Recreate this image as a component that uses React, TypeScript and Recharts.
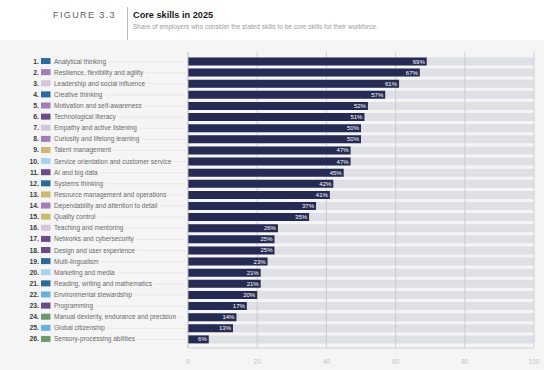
import React from 'react';
import { BarChart, Bar, XAxis, YAxis, CartesianGrid, LabelList } from 'recharts';

const skills = [
  'Analytical thinking',
  'Resilience, flexibility and agility',
  'Leadership and social influence',
  'Creative thinking',
  'Motivation and self-awareness',
  'Technological literacy',
  'Empathy and active listening',
  'Curiosity and lifelong learning',
  'Talent management',
  'Service orientation and customer service',
  'AI and big data',
  'Systems thinking',
  'Resource management and operations',
  'Dependability and attention to detail',
  'Quality control',
  'Teaching and mentoring',
  'Networks and cybersecurity',
  'Design and user experience',
  'Multi-lingualism',
  'Marketing and media',
  'Reading, writing and mathematics',
  'Environmental stewardship',
  'Programming',
  'Manual dexterity, endurance and precision',
  'Global citizenship',
  'Sensory-processing abilities',
];

const shares = [69, 67, 61, 57, 52, 51, 50, 50, 47, 47, 45, 42, 41, 37, 35, 26, 25, 25, 23, 21, 21, 20, 17, 14, 13, 6];

const groups = [
  'cognitive', 'selfEfficacy', 'workingWithOthers', 'cognitive', 'selfEfficacy', 'technology',
  'workingWithOthers', 'selfEfficacy', 'management', 'engagement', 'technology', 'cognitive',
  'management', 'selfEfficacy', 'management', 'workingWithOthers', 'technology', 'technology',
  'cognitive', 'engagement', 'cognitive', 'ethics', 'technology', 'physical', 'ethics', 'physical',
];

const xTicks = [0, 20, 40, 60, 80, 100];

const groupColors: Record<string, string> = {
  cognitive: '#2c6a9c',
  selfEfficacy: '#a47cb8',
  workingWithOthers: '#d6c5de',
  technology: '#6a4c88',
  management: '#cdb96f',
  engagement: '#a8d3ec',
  ethics: '#63b2e0',
  physical: '#6e9a6b',
};

const data = skills.map((skill, i) => ({
  skill,
  value: shares[i],
  track: 100,
  group: groups[i],
  rank: i + 1,
}));

const FONT = '"Liberation Sans", Arial, Helvetica, sans-serif';
const LABEL_FS = 6.5;

let ctx: CanvasRenderingContext2D | null = null;
function textWidth(t: string, font: string): number {
  if (typeof document === 'undefined') return t.length * 3;
  if (!ctx) {
    const c = document.createElement('canvas');
    ctx = c.getContext('2d');
  }
  if (!ctx) return t.length * 3;
  ctx.font = font;
  return ctx.measureText(t).width;
}

const SkillTick = (props: any) => {
  const { y, payload, index } = props;
  const d = data[index] || data.find((r) => r.skill === payload.value);
  const label = String(payload.value);
  const w = textWidth(label, `${LABEL_FS}px "Liberation Sans", Arial, sans-serif`);
  const dotStart = 54 + w + 3;
  return (
    <g>
      <text x={39} y={y} textAnchor="end" dominantBaseline="central" fontSize={6.8} fontWeight="bold" fill="#3a3a3a" fontFamily={FONT}>
        {`${d ? d.rank : index + 1}.`}
      </text>
      <rect x={41} y={y - 3} width={9.5} height={6} fill={d ? groupColors[d.group] : '#999'} />
      <text x={54} y={y} dominantBaseline="central" fontSize={LABEL_FS} fill="#6a6a6a" fontFamily={FONT}>
        {label}
      </text>
      {dotStart < 184 && (
        <line x1={dotStart} x2={185} y1={y + 0.5} y2={y + 0.5} stroke="#b4b4b4" strokeWidth={0.6} strokeDasharray="0.7 1.3" />
      )}
    </g>
  );
};

const ValueLabel = (props: any) => {
  const { x, y, width, height, value } = props;
  return (
    <text
      x={x + width - 2}
      y={y + height / 2}
      textAnchor="end"
      dominantBaseline="central"
      fontSize={6}
      fill="#ffffff"
      fontFamily={FONT}
    >
      {`${value}%`}
    </text>
  );
};

export default function App() {
  return (
    <div style={{ position: 'fixed', left: 0, top: 0, width: 544, height: 370, background: '#ffffff', overflow: 'hidden', fontFamily: FONT }}>
      <div style={{ position: 'absolute', left: 0, top: 40, width: 544, height: 330, background: '#f5f5f5' }} />
      <div style={{ position: 'absolute', left: 53, top: 9, fontSize: 9, letterSpacing: 1.4, color: '#606060', whiteSpace: 'nowrap', lineHeight: '12px' }}>
        FIGURE 3.3
      </div>
      <div style={{ position: 'absolute', left: 127, top: 7, width: 1, height: 33, background: '#b8b8b8' }} />
      <div style={{ position: 'absolute', left: 133, top: 9, fontSize: 9.2, fontWeight: 'bold', color: '#1a1a1a', whiteSpace: 'nowrap', lineHeight: '12px' }}>
        Core skills in 2025
      </div>
      <div style={{ position: 'absolute', left: 133, top: 22, fontSize: 6.5, color: '#9a9a9a', whiteSpace: 'nowrap', lineHeight: '9px' }}>
        Share of employers who consider the stated skills to be core skills for their workforce.
      </div>
      <div style={{ position: 'absolute', left: 0, top: 0 }}>
        <BarChart
          width={544}
          height={370}
          data={data}
          layout="vertical"
          margin={{ top: 52, right: 10, bottom: 0, left: 8 }}
          barGap={-8}
          barSize={8}
        >
          <CartesianGrid horizontal={false} stroke="#c6c6c6" strokeWidth={0.8} />
          <XAxis
            type="number"
            domain={[0, 100]}
            ticks={xTicks}
            axisLine={{ stroke: '#c6c6c6', strokeWidth: 0.8 }}
            tickLine={false}
            tickSize={6}
            tickMargin={5}
            height={22}
            interval={0}
            tick={{ fontSize: 6.5, fill: '#c2c2c2', fontFamily: FONT }}
          />
          <XAxis
            xAxisId="top"
            orientation="top"
            type="number"
            domain={[0, 100]}
            ticks={xTicks}
            height={0}
            tick={false}
            tickLine={false}
            axisLine={{ stroke: '#c6c6c6', strokeWidth: 0.8 }}
          />
          <YAxis
            type="category"
            dataKey="skill"
            width={180}
            interval={0}
            axisLine={{ stroke: '#c6c6c6', strokeWidth: 0.8 }}
            tickLine={false}
            padding={{ top: 3.5, bottom: 3.5 }}
            tick={<SkillTick />}
          />
          <Bar dataKey="track" fill="rgba(198,198,212,0.45)" isAnimationActive={false} />
          <Bar dataKey="value" fill="#252b53" isAnimationActive={false}>
            <LabelList dataKey="value" content={<ValueLabel />} />
          </Bar>
        </BarChart>
      </div>
    </div>
  );
}
